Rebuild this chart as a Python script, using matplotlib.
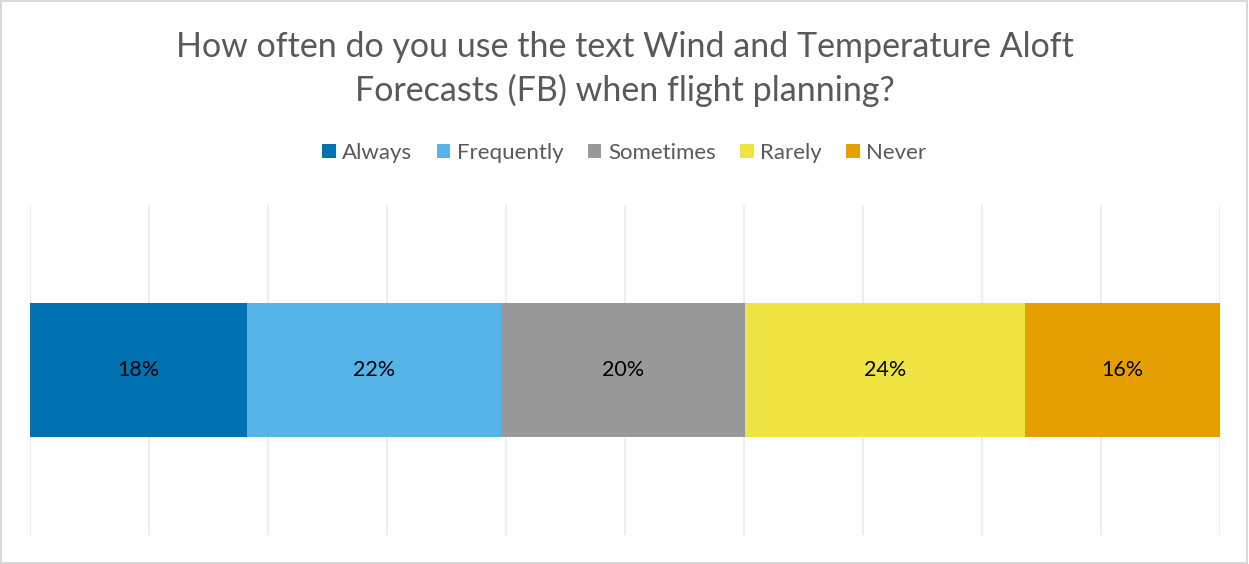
import matplotlib
matplotlib.use("Agg")
import matplotlib.pyplot as plt
from matplotlib.patches import Rectangle

TITLE = "How often do you use the text Wind and Temperature Aloft\nForecasts (FB) when flight planning?"
categories = ["Always", "Frequently", "Sometimes", "Rarely", "Never"]
shares = [18.2, 21.4, 20.5, 23.5, 16.4]  # segment widths, % of respondents
labels = ["18%", "22%", "20%", "24%", "16%"]
colors = ["#0072B2", "#56B4E9", "#999999", "#F0E442", "#E69F00"]

plt.rcParams["font.family"] = ["Lato", "DejaVu Sans"]
TXT = "#595959"

fig = plt.figure(figsize=(12.49, 5.64), dpi=100)
fig.patches.append(Rectangle((0.001, 0.001), 0.997, 0.997, transform=fig.transFigure,
                             fill=False, edgecolor="#D9D9D9", linewidth=1.5))
ax = fig.add_axes([30 / 1249, 29 / 564, 1190 / 1249, 330 / 564])

left = 0
for cat, v, lab, c in zip(categories, shares, labels, colors):
    ax.barh(0, v, left=left, height=0.5, color=c, label=cat, zorder=3)
    ax.text(left + v / 2, 0, lab, ha="center", va="center", fontsize=15.5, color="black", zorder=4)
    left += v

ax.set_xlim(0, 100)
ax.set_ylim(-0.62, 0.62)
ax.set_xticks(range(0, 101, 10))
ax.set_yticks([])
ax.tick_params(axis="x", length=0, labelbottom=False)
ax.grid(axis="x", color="#EBEBEB", linewidth=1.2, zorder=0)
for s in ax.spines.values():
    s.set_visible(False)

fig.text(0.5, 1 - 69 / 564, TITLE, ha="center", va="center", fontsize=24.5, color=TXT,
         linespacing=1.42)
fig.legend(loc="center", bbox_to_anchor=(0.5, 1 - 153 / 564), ncol=5, frameon=False,
           fontsize=16, labelcolor=TXT, handlelength=0.6, handleheight=0.6,
           handletextpad=0.3, columnspacing=1.1)

fig.savefig("out.png", dpi=100)
